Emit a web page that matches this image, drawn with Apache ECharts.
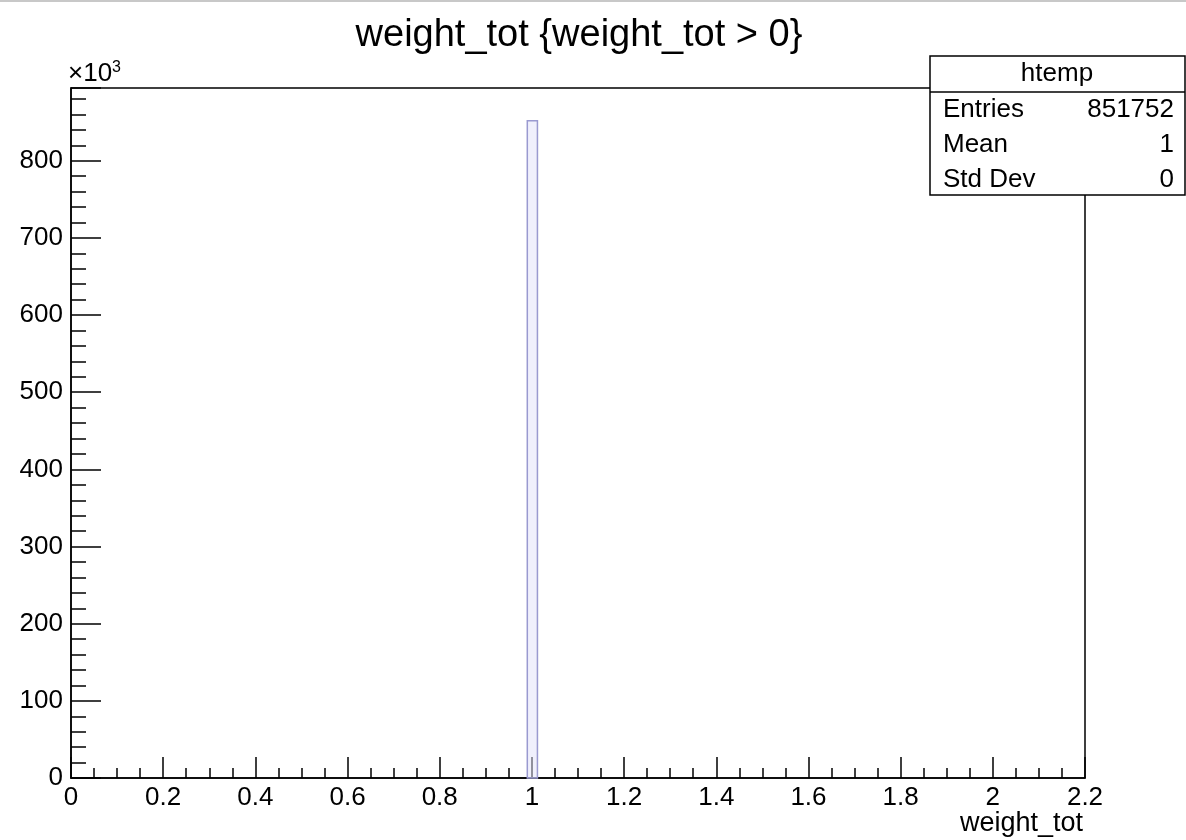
<!DOCTYPE html>
<html>
<head>
<meta charset="utf-8">
<script src="https://cdn.jsdelivr.net/npm/echarts@6/dist/echarts.min.js"></script>
<style>
  html, body { margin: 0; padding: 0; background: #fff; }
  #chart { width: 1186px; height: 840px; }
</style>
</head>
<body>
<div id="chart"></div>
<script>
// histogram bins (only the filled one), x in weight_tot units
const binLow = [0.99]
const binHigh = [1.012]
const binCount = [851752]

const xTicks = [0, 0.2, 0.4, 0.6, 0.8, 1, 1.2, 1.4, 1.6, 1.8, 2, 2.2]
const statNames = ['Entries', 'Mean', 'Std Dev']
const statValues = ['851752', '1', '0']

const yMax = Math.max(...binCount) * 1.05
const font = 'Liberation Sans, Arial, Helvetica, sans-serif'

const chart = echarts.init(document.getElementById('chart'))

const statsGraphics = [
  { type: 'rect', shape: { x: 930, y: 56, width: 255, height: 139 }, style: { fill: '#fff', stroke: '#000', lineWidth: 1.5 }, z: 10 },
  { type: 'line', shape: { x1: 930, y1: 92, x2: 1185, y2: 92 }, style: { stroke: '#000', lineWidth: 1.5 }, z: 11 },
  { type: 'text', x: 1057, y: 74, style: { text: 'htemp', font: '26px ' + font, fill: '#000', align: 'center', verticalAlign: 'middle' }, z: 11 }
]
statNames.forEach((n, i) => {
  const y = 110 + i * 35
  statsGraphics.push({ type: 'text', x: 943, y: y, style: { text: n, font: '26px ' + font, fill: '#000', align: 'left', verticalAlign: 'middle' }, z: 11 })
  statsGraphics.push({ type: 'text', x: 1174, y: y, style: { text: statValues[i], font: '26px ' + font, fill: '#000', align: 'right', verticalAlign: 'middle' }, z: 11 })
})

chart.setOption({
  animation: false,
  title: {
    text: 'weight_tot {weight_tot > 0}',
    left: 574, top: 12, textAlign: 'center',
    textStyle: { fontFamily: font, fontSize: 38, fontWeight: 'normal', color: '#000' }
  },
  grid: { left: 71, top: 88, width: 1014, height: 690, show: true, borderColor: '#000', borderWidth: 1.5, backgroundColor: 'transparent' },
  xAxis: {
    type: 'value', min: 0, max: 2.2, interval: 0.2,
    axisLine: { lineStyle: { color: '#000', width: 1.5 } },
    axisTick: { inside: true, length: 21, lineStyle: { color: '#000', width: 1.5 } },
    minorTick: { show: true, splitNumber: 4, length: 10, lineStyle: { color: '#000', width: 1.5 } },
    splitLine: { show: false },
    axisLabel: { color: '#000', fontFamily: font, fontSize: 26, margin: 7,
      formatter: v => xTicks.indexOf(Math.round(v * 10) / 10) >= 0 ? String(Math.round(v * 10) / 10) : '' }
  },
  yAxis: {
    type: 'value', min: 0, max: yMax, interval: 100000,
    axisLine: { show: true, lineStyle: { color: '#000', width: 1.5 } },
    axisTick: { show: true, inside: true, length: 30, lineStyle: { color: '#000', width: 1.5 } },
    minorTick: { show: true, splitNumber: 5, length: 15, lineStyle: { color: '#000', width: 1.5 } },
    splitLine: { show: false },
    axisLabel: { color: '#000', fontFamily: font, fontSize: 26, margin: 8,
      formatter: v => v % 100000 === 0 ? String(v / 1000) : '' }
  },
  graphic: [
    { type: 'line', shape: { x1: 0, y1: 1, x2: 1186, y2: 1 }, style: { stroke: '#c8c8c8', lineWidth: 2 } },
    { type: 'text', x: 68, y: 60, style: { rich: { b: { fontSize: 26, fontFamily: font, fill: '#000' }, s: { fontSize: 16, fontFamily: font, fill: '#000', verticalAlign: 'top', padding: [0, 0, 12, 0] } }, text: '{b|×10}{s|3}', fill: '#000' } },
    { type: 'text', x: 1083, y: 824, style: { text: 'weight_tot', font: '27px ' + font, fill: '#000', align: 'right', verticalAlign: 'middle' } }
  ].concat(statsGraphics),
  series: [{
    type: 'custom',
    data: binCount.map((c, i) => [binLow[i], binHigh[i], c]),
    renderItem: (params, api) => {
      const lo = api.coord([api.value(0), 0])
      const hi = api.coord([api.value(1), api.value(2)])
      return {
        type: 'rect',
        shape: { x: lo[0], y: hi[1], width: hi[0] - lo[0], height: lo[1] - hi[1] },
        style: { fill: 'rgba(225,225,250,0.5)', stroke: '#9a9ad0', lineWidth: 1.5 }
      }
    }
  }]
})
</script>
</body>
</html>
